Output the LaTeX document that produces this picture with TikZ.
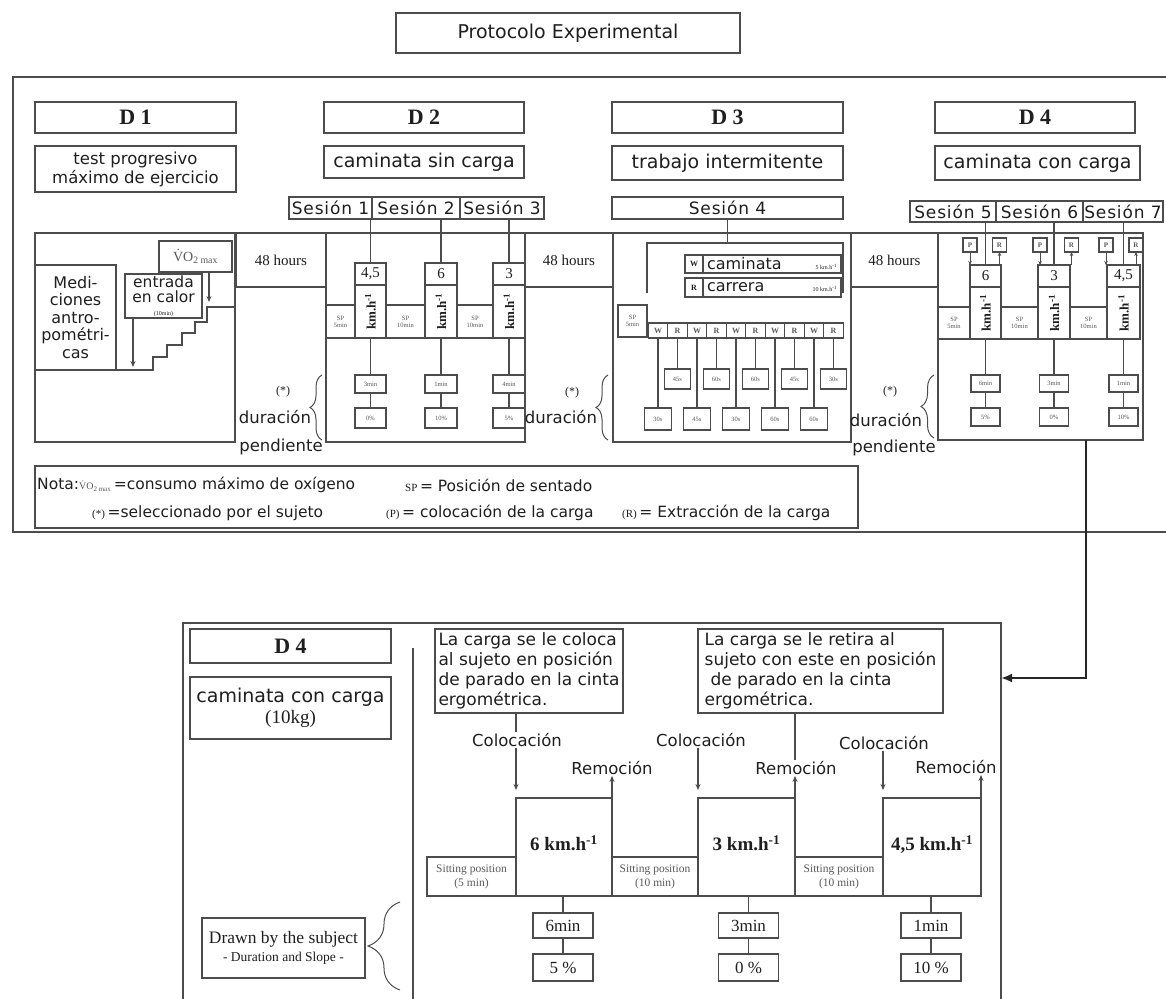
\documentclass[tikz,border=0pt]{standalone}
\usepackage{fontspec}
\setmainfont{DejaVu Sans}
\newfontfamily\tms{Liberation Serif}
\usetikzlibrary{arrows.meta,decorations.pathreplacing}
\definecolor{trazo}{gray}{0.3}
\definecolor{tinta}{gray}{0.12}
\definecolor{tenue}{gray}{0.35}
\newcommand{\tam}[2]{\fontsize{#1}{#2}\selectfont}
\newcommand{\kmh}{\rotatebox{90}{\tms\bfseries\tam{13}{13}km.h\textsuperscript{-1}}}

\begin{document}
\begin{tikzpicture}[x=1pt,y=-1pt,
    caja/.style={draw=trazo,line width=1.1pt,fill=white,text=tinta,inner sep=0pt,outer sep=0pt,align=center},
    medida/.style 2 args={minimum width=#1,minimum height=#2},
    dia/.style={caja,font=\tms\bfseries\tam{22}{24}},
    horas/.style={caja,font=\tms\tam{15}{16}},
    vel/.style={caja,font=\tms\tam{15}{16}},
    chico/.style={caja,font=\tms\tam{6.5}{7},text=tenue},
    ses/.style={caja,font=\tam{17}{18}\addfontfeature{LetterSpace=5}},
    etiq/.style={font=\tam{16.5}{18},text=tinta,inner sep=1pt},
    notat/.style={font=\tam{15.5}{16},text=tinta,inner sep=0pt,anchor=west},
    conector/.style={draw=trazo,line width=1.1pt},
    flecha/.style={conector,-{Stealth[length=6pt,width=5pt]}},
    flechita/.style={conector,line width=0.8pt,-{Stealth[length=4pt,width=3.5pt]}},
    marco/.style={draw=trazo,line width=1.5pt},
    llave/.style={draw=trazo,line width=1pt,decorate,decoration={brace,amplitude=#1}},
    grueso/.style={draw=black!85,line width=2.6pt,-{Latex[length=11pt,width=9pt]}}]
    \useasboundingbox (0,0) rectangle (1166,998);

    % titulo y marco superior
    \node[caja, medida={344}{40}, font=\tam{19}{20}] (titulo) at (568,33) {Protocolo Experimental};
    \draw[marco] (1175,77) -| (13,532) -- (1175,532);

    % dias
    \node[dia, medida={201}{31}] (d1) at (135.5,117.5) {D 1};
    \node[dia, medida={200}{31}] (d2) at (424,117.5) {D 2};
    \node[dia, medida={231}{31}] (d3) at (727.5,117.5) {D 3};
    \node[dia, medida={200}{31}] (d4) at (1035,117.5) {D 4};

    \node[caja, medida={201}{46}, font=\tam{16.5}{19}] (s1) at (135.5,169) {test progresivo\\máximo de ejercicio};
    \node[caja, medida={200}{32}, font=\tam{19}{20}] (s2) at (424,162) {caminata sin carga};
    \node[caja, medida={231}{34}, font=\tam{19}{20}] (s3) at (727.5,163) {trabajo intermitente};
    \node[caja, medida={205}{34}, font=\tam{19}{20}] (s4) at (1037.5,163) {caminata con carga};

    % sesiones
    \node[ses, medida={83}{22}] (ses1) at (330.5,208) {Sesión 1};
    \node[ses, medida={88}{22}] (ses2) at (416,208) {Sesión 2};
    \node[ses, medida={84}{22}] (ses3) at (502,208) {Sesión 3};
    \node[ses, medida={231}{22}] (ses4) at (727.5,208) {Sesión 4};
    \node[ses, medida={86}{21}] (ses5) at (953,211.5) {Sesión 5};
    \node[ses, medida={87}{21}] (ses6) at (1039.5,211.5) {Sesión 6};
    \node[ses, medida={80}{21}] (ses7) at (1123,211.5) {Sesión 7};

    % 48 horas y marcos de cada dia
    \node[horas, medida={90}{54}] (h1) at (281,260) {48 hours};
    \node[horas, medida={88}{54}] (h2) at (569,260) {48 hours};
    \node[horas, medida={87}{54}] (h3) at (894.5,260) {48 hours};
    \node[caja, medida={200}{209}] (f1) at (135,337.5) {};
    \node[caja, medida={199}{209}] (f2) at (425.5,337.5) {};
    \node[caja, medida={238}{209}] (f3) at (732,337.5) {};
    \node[caja, medida={205}{207}] (f4) at (1040.5,336.5) {};

    % D1
    \node[caja, medida={81}{105}, font=\tam{16}{17.5}] (med) at (75.5,317.5) {Medi-\\ciones\\antro-\\pométri-\\cas};
    \node[caja, medida={73}{31}, font=\tms\tam{14}{15}, text=tenue] (vo2) at (195.5,256.5) {\.{V}O\textsubscript{2 max}};
    \node[caja, medida={77}{44}, font=\tam{15.5}{15}] (cal) at (163.5,296) {entrada\\en calor\\[-2pt]{\tms\tam{6}{6}(10min)}};
    \draw[conector] (med.south east) -- (153,370) |- (167,357) |- (182,345) |- (195,333) |- (207,322) |- (235,307);
    \coordinate (calpie) at (133,367);
    \coordinate (vopie) at (209,302);
    \draw[flecha] (cal.south -| calpie) -- (calpie);
    \draw[flecha] (vo2.south -| vopie) -- (vopie);

    % D2
    \node[vel, medida={31}{22}] (v1) at (370.5,274) {4,5};
    \node[vel, medida={32}{22}] (v2) at (441,274) {6};
    \node[vel, medida={32}{22}] (v3) at (509,274) {3};
    \node[caja, medida={31}{53}] (k1) at (370.5,311.5) {\kmh};
    \node[caja, medida={32}{53}] (k2) at (441,311.5) {\kmh};
    \node[caja, medida={32}{53}] (k3) at (509,311.5) {\kmh};
    \node[chico, medida={29}{33}] (sp1) at (340.5,321.5) {SP\\5min};
    \node[chico, medida={39}{33}] (sp2) at (405.5,321.5) {SP\\10min};
    \node[chico, medida={36}{33}] (sp3) at (475,321.5) {SP\\10min};
    \draw[conector] (v1.north) -- (v1.north |- ses1.south);
    \draw[conector] (v2.north) -- (v2.north |- ses2.south);
    \draw[conector] (v3.north) -- (v3.north |- ses3.south);
    \node[chico, medida={31}{18}] (min1) at (370.5,384) {3min};
    \node[chico, medida={32}{18}] (min2) at (441,384) {1min};
    \node[chico, medida={32}{18}] (min3) at (509,384) {4min};
    \node[chico, medida={31}{20}] (pct1) at (370.5,418) {0\%};
    \node[chico, medida={32}{20}] (pct2) at (441,418) {10\%};
    \node[chico, medida={32}{20}] (pct3) at (509,418) {5\%};
    \draw[conector] (k1.south) -- (min1.north) (min1.south) -- (pct1.north);
    \draw[conector] (k2.south) -- (min2.north) (min2.south) -- (pct2.north);
    \draw[conector] (k3.south) -- (min3.north) (min3.south) -- (pct3.north);
    \node[font=\tms\tam{12}{12}, text=tinta] (ast2) at (283,392) {(*)};
    \node[etiq] (dur2) at (275,417) {duración};
    \node[etiq] (pen2) at (281,447) {pendiente};
    \draw[llave=12] (322,440) -- (322,375);

    % D3
    \coordinate (tope) at (727.5,243);
    \coordinate (cizq) at (647,293);
    \coordinate (cder) at (843,293);
    \draw[conector] (ses4.south) -- (ses4.south |- tope);
    \draw[conector] (cizq) |- (cder |- tope) -- (cder);
    \node[caja, medida={18}{18}, font=\tms\bfseries\tam{8}{8}] (lw) at (694,264) {W};
    \node[caja, medida={18}{19}, font=\tms\bfseries\tam{8}{8}] (lr) at (694,287.5) {R};
    \node[caja, medida={138}{18}, font=\tam{16}{16}] (lcam) at (772,264) {\makebox[130pt][s]{caminata\hfill{\tms\tam{6}{6}5 km.h\textsuperscript{-1}}}};
    \node[caja, medida={138}{19}, font=\tam{16}{16}] (lcar) at (772,287.5) {\makebox[130pt][s]{carrera\hfill{\tms\tam{6}{6}10 km.h\textsuperscript{-1}}}};
    \node[chico, medida={29}{32}] (sp4) at (632.5,321) {SP\\5min};
    \node[chico, medida={19.5}{15}, font=\tms\bfseries\tam{8}{8}] (w1) at (658,330.5) {W};
    \node[chico, medida={19.5}{15}, font=\tms\bfseries\tam{8}{8}] (r1) at (677.5,330.5) {R};
    \node[chico, medida={19.5}{15}, font=\tms\bfseries\tam{8}{8}] (w2) at (697,330.5) {W};
    \node[chico, medida={19.5}{15}, font=\tms\bfseries\tam{8}{8}] (r2) at (716.5,330.5) {R};
    \node[chico, medida={19.5}{15}, font=\tms\bfseries\tam{8}{8}] (w3) at (736,330.5) {W};
    \node[chico, medida={19.5}{15}, font=\tms\bfseries\tam{8}{8}] (r3) at (755.5,330.5) {R};
    \node[chico, medida={19.5}{15}, font=\tms\bfseries\tam{8}{8}] (w4) at (775,330.5) {W};
    \node[chico, medida={19.5}{15}, font=\tms\bfseries\tam{8}{8}] (r4) at (794.5,330.5) {R};
    \node[chico, medida={19.5}{15}, font=\tms\bfseries\tam{8}{8}] (w5) at (814,330.5) {W};
    \node[chico, medida={19.5}{15}, font=\tms\bfseries\tam{8}{8}] (r5) at (833.5,330.5) {R};
    \node[chico, medida={26}{20}] (u1) at (677.5,379) {45s};
    \node[chico, medida={26}{20}] (u2) at (716.5,379) {60s};
    \node[chico, medida={26}{20}] (u3) at (755.5,379) {60s};
    \node[chico, medida={26}{20}] (u4) at (794.5,379) {45s};
    \node[chico, medida={26}{20}] (u5) at (833.5,379) {30s};
    \node[chico, medida={27}{22}] (b1) at (658,419) {30s};
    \node[chico, medida={27}{22}] (b2) at (697,419) {45s};
    \node[chico, medida={27}{22}] (b3) at (736,419) {30s};
    \node[chico, medida={27}{22}] (b4) at (775,419) {60s};
    \node[chico, medida={27}{22}] (b5) at (814,419) {60s};
    \draw[conector] (r1.south) -- (u1.north) (r2.south) -- (u2.north) (r3.south) -- (u3.north)
        (r4.south) -- (u4.north) (r5.south) -- (u5.north);
    \draw[conector] (w1.south) -- (b1.north) (w2.south) -- (b2.north) (w3.south) -- (b3.north)
        (w4.south) -- (b4.north) (w5.south) -- (b5.north);
    \node[font=\tms\tam{12}{12}, text=tinta] (ast3) at (572,393) {(*)};
    \node[etiq] (dur3) at (561,417) {duración};
    \draw[llave=12] (608,440) -- (608,375);

    % D4
    \node[vel, medida={31}{22}] (v5) at (985.5,276) {6};
    \node[vel, medida={32}{22}] (v6) at (1054,276) {3};
    \node[vel, medida={33}{22}] (v7) at (1123.5,276) {4,5};
    \node[caja, medida={31}{52}] (k5) at (985.5,313) {\kmh};
    \node[caja, medida={32}{52}] (k6) at (1054,313) {\kmh};
    \node[caja, medida={33}{52}] (k7) at (1123.5,313) {\kmh};
    \node[chico, medida={32}{32}] (sp5) at (954,323) {SP\\5min};
    \node[chico, medida={37}{32}] (sp6) at (1019.5,323) {SP\\10min};
    \node[chico, medida={37}{32}] (sp7) at (1088.5,323) {SP\\10min};
    \node[chico, medida={14}{14}, font=\tms\bfseries\tam{7}{7}] (pa5) at (970,245) {P};
    \node[chico, medida={14}{14}, font=\tms\bfseries\tam{7}{7}] (ra5) at (999.5,245) {R};
    \node[chico, medida={14}{14}, font=\tms\bfseries\tam{7}{7}] (pa6) at (1040,245) {P};
    \node[chico, medida={14}{14}, font=\tms\bfseries\tam{7}{7}] (ra6) at (1071.5,245) {R};
    \node[chico, medida={14}{14}, font=\tms\bfseries\tam{7}{7}] (pa7) at (1106,245) {P};
    \node[chico, medida={14}{14}, font=\tms\bfseries\tam{7}{7}] (ra7) at (1136,245) {R};
    \draw[conector] (v5.north) -- (v5.north |- ses5.south);
    \draw[conector] (v6.north) -- (v6.north |- ses6.south);
    \draw[conector] (v7.north) -- (v7.north |- ses7.south);
    \draw[flechita] (pa5.south) -- (pa5.south |- v5.north);
    \draw[flechita] (ra5.south |- v5.north) -- (ra5.south);
    \draw[flechita] (pa6.south) -- (pa6.south |- v6.north);
    \draw[flechita] (ra6.south |- v6.north) -- (ra6.south);
    \draw[flechita] (pa7.south) -- (pa7.south |- v7.north);
    \draw[flechita] (ra7.south |- v7.north) -- (ra7.south);
    \node[chico, medida={29}{17}] (min5) at (985.5,383.5) {6min};
    \node[chico, medida={29}{17}] (min6) at (1054,383.5) {3min};
    \node[chico, medida={29}{17}] (min7) at (1123.5,383.5) {1min};
    \node[chico, medida={29}{18}] (pct5) at (985.5,417) {5\%};
    \node[chico, medida={29}{18}] (pct6) at (1054,417) {0\%};
    \node[chico, medida={29}{18}] (pct7) at (1123.5,417) {10\%};
    \draw[conector] (k5.south) -- (min5.north) (min5.south) -- (pct5.north);
    \draw[conector] (k6.south) -- (min6.north) (min6.south) -- (pct6.north);
    \draw[conector] (k7.south) -- (min7.north) (min7.south) -- (pct7.north);
    \node[font=\tms\tam{12}{12}, text=tinta] (ast4) at (890,392) {(*)};
    \node[etiq] (dur4) at (886,420) {duración};
    \node[etiq] (pen4) at (894,448) {pendiente};
    \draw[llave=13] (934,438) -- (934,375);

    % nota
    \node[caja, medida={823}{62}] (nota) at (446.5,497) {};
    \node[notat] (nota1) at (37,485) {Nota:{\tms\tam{10}{10}\color{tenue}\.{V}O\textsubscript{2 max}}\,=consumo máximo de oxígeno};
    \node[notat] (nota2) at (405,485) {{\tms\tam{11}{11}SP}\,= Posición de sentado};
    \node[notat] (nota3) at (92,513) {{\tms\tam{11}{11}(*)}\,=seleccionado por el sujeto};
    \node[notat] (nota4) at (386,513) {{\tms\tam{11}{11}(P)}\,= colocación de la carga};
    \node[notat] (nota5) at (622,513) {{\tms\tam{11}{11}(R)}\,= Extracción de la carga};

    % D4 ampliado
    \draw[marco] (183,1005) |- (1001,623) -- (1001,1005);
    \coordinate (divtop) at (413,648);
    \draw[conector] (divtop) -- (divtop |- 0,1005);
    \node[dia, medida={201}{34}] (bd4) at (290.5,646) {D 4};
    \node[caja, medida={201}{62}, font=\tam{19}{21}] (bs4) at (290.5,708) {caminata con carga\\{\tms (10kg)}};
    \node[caja, medida={163}{60}, font=\tms\tam{17.5}{18}] (sujeto) at (283.5,948) {Drawn by the subject\\{\tam{13.5}{15}- Duration and Slope -}};
    \draw[llave=32] (400,990) -- (400,902);

    \node[caja, medida={188}{84}, font=\tam{17}{20}, align=left] (coloca) at (529,671) {La carga se le coloca\\al sujeto en posición\\de parado en la cinta\\ergométrica.};
    \node[caja, medida={245}{84}, font=\tam{17}{20}, align=left] (retira) at (820.5,671) {La carga se le retira al\\sujeto con este en posición\\\hspace*{0.35em}de parado en la cinta\\ergométrica.};

    \node[caja, medida={96}{98}, font=\tms\bfseries\tam{19}{20}] (m1) at (564,847) {\raisebox{8pt}{6 km.h\textsuperscript{-1}}};
    \node[caja, medida={97}{98}, font=\tms\bfseries\tam{19}{20}] (m2) at (746.5,847) {\raisebox{8pt}{3 km.h\textsuperscript{-1}}};
    \node[caja, medida={98}{98}, font=\tms\bfseries\tam{19}{20}] (m3) at (932,847) {\raisebox{8pt}{4,5 km.h\textsuperscript{-1}}};
    \node[chico, medida={89}{39}, font=\tms\tam{11.5}{14}] (st1) at (471.5,876.5) {Sitting position\\(5 min)};
    \node[chico, medida={86}{39}, font=\tms\tam{11.5}{14}] (st2) at (655,876.5) {Sitting position\\(10 min)};
    \node[chico, medida={88}{39}, font=\tms\tam{11.5}{14}] (st3) at (839,876.5) {Sitting position\\(10 min)};
    \node[caja, medida={60}{25}, font=\tms\tam{17}{18}] (mm1) at (563,925.5) {6min};
    \node[caja, medida={60}{25}, font=\tms\tam{17}{18}] (mm2) at (748.5,925.5) {3min};
    \node[caja, medida={60}{25}, font=\tms\tam{17}{18}] (mm3) at (931,925.5) {1min};
    \node[caja, medida={60}{27}, font=\tms\tam{17}{18}] (pc1) at (563,967.5) {5 \%};
    \node[caja, medida={60}{27}, font=\tms\tam{17}{18}] (pc2) at (748.5,967.5) {0 \%};
    \node[caja, medida={60}{27}, font=\tms\tam{17}{18}] (pc3) at (931,967.5) {10 \%};
    \draw[conector] (mm1.north) -- (mm1.north |- m1.south) (mm1.south) -- (pc1.north);
    \draw[conector] (mm2.north) -- (mm2.north |- m2.south) (mm2.south) -- (pc2.north);
    \draw[conector] (mm3.north) -- (mm3.north |- m3.south) (mm3.south) -- (pc3.north);

    \node[etiq] (col1) at (517,740) {Colocación};
    \node[etiq] (col2) at (701,740) {Colocación};
    \node[etiq] (col3) at (884,743) {Colocación};
    \node[etiq] (rem1) at (612,768) {Remoción};
    \node[etiq] (rem2) at (796,768) {Remoción};
    \node[etiq] (rem3) at (956,767) {Remoción};
    \draw[conector] (coloca.south -| m1.north west) -- (col1.north -| m1.north west);
    \draw[flecha] (col1.south -| m1.north west) -- ([yshift=8pt]m1.north west);
    \draw[flecha] (col2.south -| m2.north west) -- ([yshift=8pt]m2.north west);
    \draw[flecha] (col3.south -| m3.north west) -- ([yshift=8pt]m3.north west);
    \draw[conector] (retira.south -| m2.north east) -- (rem2.north -| m2.north east);
    \draw[flecha] (m1.north east) -- (m1.north east |- rem1.south);
    \draw[flecha] (m2.north east) -- (m2.north east |- rem2.south);
    \draw[flecha] (m3.north east) -- (m3.north east |- rem3.south);

    % enlace D4 -> ampliado
    \coordinate (codo) at (1086,678);
    \coordinate (llegada) at (1001,678);
    \draw[grueso] (f4.south -| codo) -- (codo) -- (llegada);
\end{tikzpicture}
\end{document}
